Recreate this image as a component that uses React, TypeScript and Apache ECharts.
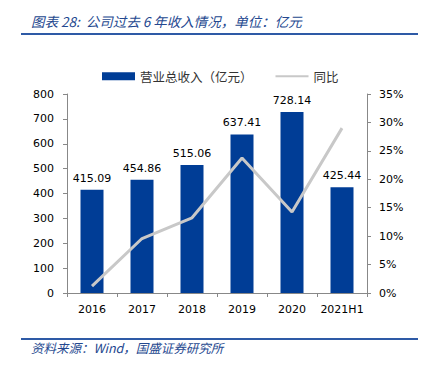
import React, { useEffect, useRef } from "react";
import * as echarts from "echarts";

const categories = ["2016", "2017", "2018", "2019", "2020", "2021H1"];
const revenue = [415.09, 454.86, 515.06, 637.41, 728.14, 425.44];
const yoy = [1.2, 9.58, 13.23, 23.75, 14.23, 29.0];
const titleText = "图表 28:  公司过去 6 年收入情况，单位：亿元";
const sourceText = "资料来源：Wind，国盛证券研究所";

export default function App() {
  const ref = useRef<HTMLDivElement>(null);
  useEffect(() => {
    document.body.style.margin = "0";
    const chart = echarts.init(ref.current!, null, { renderer: "svg" });
    const axisFont = "DejaVu Sans";
    chart.setOption({
      animation: false,
      backgroundColor: "#fff",
      grid: { left: 67, right: 61, top: 94, bottom: 74 },
      legend: {
        top: 65,
        left: 97,
        itemWidth: 33,
        itemHeight: 8,
        itemGap: 22,
        textStyle: { fontSize: 12.5, color: "#333", fontFamily: "Noto Sans CJK SC" },
        data: [
          { name: "营业总收入（亿元）", icon: "rect" },
          { name: "同比", itemStyle: { opacity: 0 } },
        ],
      },
      xAxis: {
        type: "category",
        data: categories,
        axisLine: { lineStyle: { color: "#888", width: 1 } },
        axisTick: { show: true, alignWithLabel: false, length: 4, lineStyle: { color: "#888" } },
        axisLabel: { color: "#000", fontSize: 11, fontFamily: axisFont, margin: 11, interval: 0 },
      },
      yAxis: [
        {
          type: "value",
          min: 0,
          max: 800,
          interval: 100,
          splitLine: { show: false },
          axisLine: { show: true, lineStyle: { color: "#888" } },
          axisTick: { show: true, length: 4, lineStyle: { color: "#888" } },
          axisLabel: { color: "#000", fontSize: 11, fontFamily: axisFont, margin: 13 },
        },
        {
          type: "value",
          min: 0,
          max: 35,
          interval: 5,
          splitLine: { show: false },
          axisLine: { show: true, lineStyle: { color: "#888" } },
          axisTick: { show: true, length: 4, lineStyle: { color: "#888" } },
          axisLabel: { color: "#000", fontSize: 11, fontFamily: axisFont, margin: 12, formatter: "{value}%" },
        },
      ],
      series: [
        {
          name: "营业总收入（亿元）",
          type: "bar",
          data: revenue,
          barWidth: "46%",
          itemStyle: { color: "#003D96" },
          label: {
            show: true,
            position: "top",
            distance: 6,
            color: "#000",
            fontSize: 11,
            fontFamily: axisFont,
            formatter: (p: any) => p.value.toFixed(2),
          },
        },
        {
          name: "同比",
          type: "line",
          yAxisIndex: 1,
          data: yoy,
          symbol: "none",
          lineStyle: { color: "#C8C8C8", width: 3 },
          itemStyle: { color: "#C8C8C8" },
        },
      ],
      graphic: [
        {
          type: "text",
          left: 31,
          top: 14,
          style: {
            text: titleText,
            fill: "#24488F",
            font: "italic 13.5px 'Noto Sans CJK SC'",
          },
        },
        {
          type: "rect",
          shape: { x: 21, y: 33, width: 397, height: 2 },
          style: { fill: "#2E5AA6" },
        },
        {
          type: "rect",
          shape: { x: 21, y: 338, width: 397, height: 2 },
          style: { fill: "#2E5AA6" },
        },
        {
          type: "text",
          left: 31,
          top: 341,
          style: {
            text: sourceText,
            fill: "#24488F",
            font: "italic 12.5px 'Noto Sans CJK SC'",
          },
        },
      ],
    });
    return () => chart.dispose();
  }, []);
  return <div ref={ref} style={{ width: 428, height: 367 }} />;
}
